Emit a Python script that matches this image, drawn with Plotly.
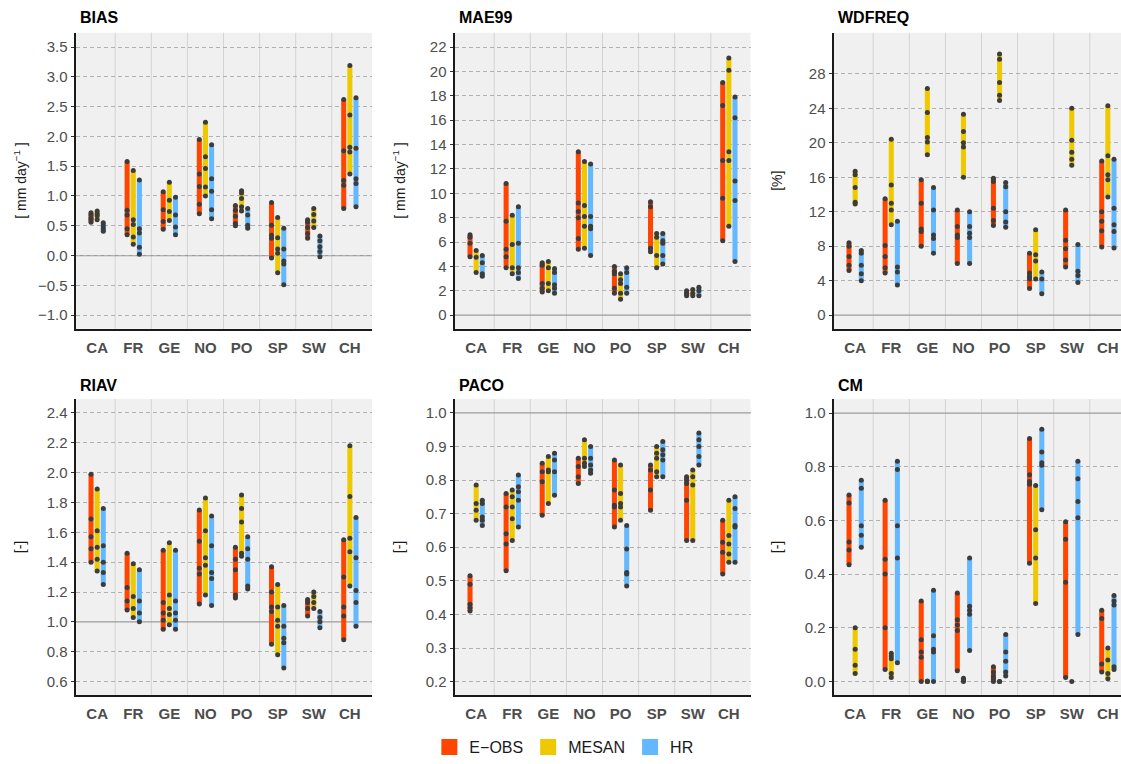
import plotly.graph_objects as go

# ---------------- data ----------------
CATEGORIES = ["CA", "FR", "GE", "NO", "PO", "SP", "SW", "CH"]
SERIES_NAMES = ["E−OBS", "MESAN", "HR"]
SERIES_COLORS = ["#FF4500", "#EEC900", "#63B8FF"]

# BIAS [mm/day]
BIAS_EOBS = [[0.72, 0.68, 0.63, 0.60, 0.56], [1.58, 0.76, 0.68, 0.45, 0.35], [1.07, 0.77, 0.57, 0.44],
             [1.95, 1.37, 1.16, 0.86, 0.70], [0.84, 0.76, 0.66, 0.54, 0.50], [0.89, 0.51, 0.34, 0.29, -0.04],
             [0.60, 0.56, 0.47, 0.37, 0.29], [2.62, 1.76, 1.26, 1.18, 0.79]]
BIAS_MESAN = [[0.75, 0.70, 0.67, 0.60], [1.43, 0.60, 0.52, 0.31, 0.19], [1.23, 0.93, 0.74, 0.59],
              [2.24, 1.66, 1.46, 1.15, 1.00], [1.09, 1.05, 0.96, 0.82, 0.75], [0.64, 0.30, 0.11, 0.04, -0.29],
              [0.79, 0.69, 0.58, 0.47], [3.19, 2.36, 1.82, 1.74, 1.37]]
BIAS_HR = [[0.55, 0.50, 0.45, 0.41], [1.27, 0.45, 0.38, 0.14, 0.02], [0.98, 0.68, 0.48, 0.35],
           [1.86, 1.29, 1.08, 0.77, 0.62], [0.79, 0.68, 0.51, 0.46], [0.46, 0.11, -0.09, -0.14, -0.49],
           [0.33, 0.25, 0.15, 0.07, -0.02], [2.65, 1.80, 1.29, 1.21, 0.82]]

# MAE99 [mm/day]
MAE99_EOBS = [[6.6, 6.4, 5.9, 4.8], [10.8, 7.7, 5.4, 4.8, 3.9], [4.3, 4.1, 2.6, 2.2, 1.9],
              [13.4, 9.2, 8.5, 8.0, 6.3, 5.4], [4.0, 3.6, 3.4, 2.2, 1.8], [9.3, 8.9, 5.5, 5.2],
              [2.0, 1.8, 1.6], [19.1, 17.2, 12.7, 9.6, 6.1]]
MAE99_MESAN = [[5.3, 4.75, 3.5], [8.2, 5.8, 3.9, 3.4], [4.4, 3.9, 2.6, 2.0],
               [12.6, 9.0, 8.1, 7.3, 5.5], [3.4, 2.9, 2.6, 1.8, 1.3], [6.7, 6.4, 4.9, 3.9],
               [2.1, 1.8, 1.6], [21.1, 20.1, 13.4, 12.7, 7.3]]
MAE99_HR = [[4.9, 4.3, 3.4, 3.2], [8.9, 5.9, 3.9, 3.5, 3.0], [3.8, 3.5, 2.5, 2.2, 1.8],
            [12.4, 8.1, 7.3, 7.1, 4.9], [3.9, 3.5, 2.3, 1.8], [6.7, 6.1, 5.9, 4.9, 4.2],
            [2.3, 2.0, 1.6], [17.9, 16.2, 11.0, 9.4, 4.4]]

# WDFREQ [%]
WDFREQ_EOBS = [[8.4, 8.0, 6.8, 5.8, 5.2], [13.5, 8.1, 6.8, 5.5, 4.9], [15.7, 13.0, 10.0, 9.7, 8.0],
               [12.2, 10.3, 9.3, 9.0, 6.0], [15.9, 15.5, 12.4, 11.0, 10.4], [7.2, 4.9, 4.5, 4.2, 3.1],
               [12.2, 8.7, 7.7, 6.4, 5.6], [17.9, 12.0, 10.9, 9.8, 7.9]]
WDFREQ_MESAN = [[16.7, 16.3, 14.8, 13.1, 12.9], [20.4, 15.1, 13.0, 12.2, 10.5], [26.3, 23.5, 20.6, 20.1, 18.6],
                [23.3, 21.3, 20.0, 19.5, 16.0], [30.3, 29.7, 27.0, 25.5, 24.9], [9.9, 7.0, 6.3, 4.2],
                [24.0, 20.3, 18.9, 18.1, 17.4], [24.3, 18.5, 16.3, 15.7, 13.7]]
WDFREQ_HR = [[7.5, 7.2, 5.8, 4.8, 4.0], [10.9, 5.6, 5.0, 3.5], [14.8, 12.2, 9.3, 8.9, 7.2],
             [12.0, 10.3, 9.5, 9.0, 6.0], [15.4, 14.9, 12.0, 10.8, 10.2], [5.0, 4.2, 2.5],
             [8.2, 5.1, 4.6, 3.8], [18.1, 12.4, 10.5, 9.7, 7.8]]

# RIAV [-]
RIAV_EOBS = [[1.99, 1.69, 1.57, 1.49, 1.40], [1.46, 1.23, 1.14, 1.08], [1.48, 1.13, 1.06, 1.01, 0.95],
             [1.75, 1.54, 1.36, 1.32, 1.12], [1.50, 1.42, 1.35, 1.18, 1.16], [1.37, 1.20, 1.10, 1.07, 0.85],
             [1.15, 1.13, 1.09, 1.04], [1.55, 1.30, 1.10, 1.04, 0.88]]
RIAV_MESAN = [[1.89, 1.61, 1.50, 1.42, 1.34], [1.39, 1.17, 1.09, 1.03], [1.53, 1.18, 1.09, 1.05, 0.98],
              [1.83, 1.61, 1.43, 1.38, 1.18], [1.85, 1.76, 1.67, 1.46, 1.44], [1.25, 1.10, 1.01, 0.97, 0.78],
              [1.20, 1.17, 1.13, 1.09], [2.18, 1.84, 1.56, 1.47, 1.24]]
RIAV_HR = [[1.76, 1.51, 1.40, 1.33, 1.25], [1.35, 1.14, 1.06, 1.00], [1.48, 1.14, 1.06, 1.01, 0.95],
           [1.71, 1.51, 1.33, 1.29, 1.11], [1.57, 1.49, 1.42, 1.24, 1.22], [1.11, 0.97, 0.89, 0.86, 0.69],
           [1.07, 1.03, 1.00, 0.96], [1.70, 1.43, 1.21, 1.13, 0.97]]

# PACO [-]
PACO_EOBS = [[0.515, 0.49, 0.43, 0.42, 0.41], [0.76, 0.72, 0.64, 0.61, 0.53], [0.85, 0.825, 0.795, 0.695],
             [0.865, 0.84, 0.81, 0.79], [0.86, 0.77, 0.725, 0.72, 0.66], [0.845, 0.83, 0.77, 0.71],
             [0.81, 0.80, 0.79, 0.74, 0.62], [0.68, 0.615, 0.585, 0.52]]
PACO_MESAN = [[0.785, 0.73, 0.71, 0.68], [0.77, 0.75, 0.72, 0.685, 0.62], [0.87, 0.83, 0.825, 0.73],
              [0.92, 0.865, 0.85, 0.84], [0.845, 0.76, 0.73, 0.72, 0.68], [0.90, 0.88, 0.865, 0.825, 0.81],
              [0.83, 0.81, 0.785, 0.62], [0.74, 0.635, 0.61, 0.58, 0.555]]
PACO_HR = [[0.74, 0.73, 0.69, 0.68, 0.665], [0.815, 0.78, 0.765, 0.74, 0.66], [0.88, 0.86, 0.825, 0.755],
           [0.90, 0.865, 0.845, 0.83, 0.82], [0.665, 0.595, 0.525, 0.52, 0.485], [0.915, 0.89, 0.875, 0.86, 0.81],
           [0.94, 0.92, 0.90, 0.87, 0.845], [0.75, 0.715, 0.665, 0.66, 0.555]]

# CM [-]
CM_EOBS = [[0.695, 0.665, 0.52, 0.49, 0.435], [0.675, 0.455, 0.40, 0.20, 0.045], [0.30, 0.155, 0.11, 0.09, 0.0],
           [0.33, 0.23, 0.21, 0.19, 0.04], [0.055, 0.035, 0.02, 0.01, 0.0], [0.905, 0.77, 0.745, 0.735, 0.44],
           [0.595, 0.53, 0.37, 0.015], [0.265, 0.235, 0.065, 0.035]]
CM_MESAN = [[0.20, 0.12, 0.06, 0.03], [0.105, 0.095, 0.085, 0.03, 0.015], [0.002, 0.0, 0.0],
            [0.012, 0.005, 0.0], [0.0, 0.0], [0.73, 0.565, 0.46, 0.29],
            [0.0], [0.125, 0.08, 0.03, 0.01]]
CM_HR = [[0.75, 0.72, 0.58, 0.545, 0.50], [0.82, 0.79, 0.58, 0.46, 0.07], [0.34, 0.17, 0.12, 0.11, 0.0],
         [0.46, 0.28, 0.265, 0.25, 0.115], [0.175, 0.11, 0.075, 0.035, 0.02], [0.94, 0.855, 0.815, 0.805, 0.64],
         [0.82, 0.755, 0.67, 0.61, 0.175], [0.32, 0.30, 0.285, 0.055, 0.045]]

# axis ticks / limits
BIAS_TICKS = [-1.0, -0.5, 0.0, 0.5, 1.0, 1.5, 2.0, 2.5, 3.0, 3.5]
MAE99_TICKS = [0, 2, 4, 6, 8, 10, 12, 14, 16, 18, 20, 22]
WDFREQ_TICKS = [0, 4, 8, 12, 16, 20, 24, 28]
RIAV_TICKS = [0.6, 0.8, 1.0, 1.2, 1.4, 1.6, 1.8, 2.0, 2.2, 2.4]
PACO_TICKS = [0.2, 0.3, 0.4, 0.5, 0.6, 0.7, 0.8, 0.9, 1.0]
CM_TICKS = [0.0, 0.2, 0.4, 0.6, 0.8, 1.0]

BIAS_LIM = [-1.23, 3.74]
MAE99_LIM = [-1.12, 23.17]
WDFREQ_LIM = [-1.58, 32.76]
RIAV_LIM = [0.507, 2.493]
PACO_LIM = [0.159, 1.041]
CM_LIM = [-0.052, 1.052]

# ---------------- layout helpers ----------------
W, H = 1121, 764
COL_X = [(75.5, 372.0), (454.5, 750.5), (833.5, 1121.0)]
ROW_Y = [(33.0, 331.0), (401.7, 700.0)]
CAT_PX = 36.1
YLABEL_X = [20, 399, 777]
TITLE_Y = [18, 388]

PANELS = [
    ("BIAS", "[ mm day<sup>−1</sup> ]", [BIAS_EOBS, BIAS_MESAN, BIAS_HR], BIAS_TICKS, "{:.1f}", BIAS_LIM, 0.0),
    ("MAE99", "[ mm day<sup>−1</sup> ]", [MAE99_EOBS, MAE99_MESAN, MAE99_HR], MAE99_TICKS, "{:d}", MAE99_LIM, 0.0),
    ("WDFREQ", "[%]", [WDFREQ_EOBS, WDFREQ_MESAN, WDFREQ_HR], WDFREQ_TICKS, "{:d}", WDFREQ_LIM, 0.0),
    ("RIAV", "[-]", [RIAV_EOBS, RIAV_MESAN, RIAV_HR], RIAV_TICKS, "{:.1f}", RIAV_LIM, 1.0),
    ("PACO", "[-]", [PACO_EOBS, PACO_MESAN, PACO_HR], PACO_TICKS, "{:.1f}", PACO_LIM, 1.0),
    ("CM", "[-]", [CM_EOBS, CM_MESAN, CM_HR], CM_TICKS, "{:.1f}", CM_LIM, 1.0),
]

DODGE = [-0.17, 0.0, 0.17]
BAR_W = 0.14
FONT = "Liberation Sans, Arial, Helvetica, sans-serif"
TXT_GREY = "#4D4D4D"

fig = go.Figure()
layout = dict(
    width=W, height=H,
    margin=dict(l=0, r=0, t=0, b=0),
    paper_bgcolor="white", plot_bgcolor="#F0F0F0",
    barmode="overlay", showlegend=True,
    font=dict(family=FONT, color=TXT_GREY),
)
shapes, annotations = [], []

for p, (title, unit, series, ticks, fmt, ylim, ref) in enumerate(PANELS):
    r, c = divmod(p, 3)
    n = p + 1
    xa = "x" if n == 1 else f"x{n}"
    ya = "y" if n == 1 else f"y{n}"
    x0p, x1p = COL_X[c]
    y0p, y1p = ROW_Y[r]
    xr = [0.4, 0.4 + (x1p - x0p) / CAT_PX]

    for s, vals in enumerate(series):
        xs = [i + 1 + DODGE[s] for i in range(len(CATEGORIES))]
        lo = [min(v) for v in vals]
        hi = [max(v) for v in vals]
        fig.add_trace(go.Bar(
            x=xs, y=[h - l for h, l in zip(hi, lo)], base=lo, width=BAR_W,
            marker=dict(color=SERIES_COLORS[s], line=dict(width=0)),
            xaxis=xa, yaxis=ya, showlegend=False, name=SERIES_NAMES[s],
        ))
        px, py = [], []
        for i, v in enumerate(vals):
            px += [xs[i]] * len(v)
            py += list(v)
        fig.add_trace(go.Scatter(
            x=px, y=py, mode="markers",
            marker=dict(color="#3C3C3C", size=5, line=dict(width=0)),
            xaxis=xa, yaxis=ya, showlegend=False, name=SERIES_NAMES[s],
        ))

    key_x = "xaxis" if n == 1 else f"xaxis{n}"
    key_y = "yaxis" if n == 1 else f"yaxis{n}"
    layout[key_x] = dict(
        domain=[x0p / W, x1p / W], range=xr, anchor=ya,
        tickvals=list(range(1, len(CATEGORIES) + 1)), ticktext=[f"<b>{t}</b>" for t in CATEGORIES],
        showgrid=False, zeroline=False, showline=True, linecolor="#1A1A1A", linewidth=2,
        ticks="outside", ticklen=4, tickcolor="rgba(0,0,0,0)",
        tickfont=dict(family=FONT, size=15, color=TXT_GREY),
        fixedrange=True,
    )
    layout[key_y] = dict(
        domain=[1 - y1p / H, 1 - y0p / H], range=ylim, anchor=xa,
        tickvals=ticks, ticktext=[fmt.format(t).replace("-", "−") for t in ticks],
        showgrid=True, gridcolor="#B0B0B0", gridwidth=1, griddash="4px,3px",
        zeroline=False, showline=True, linecolor="#1A1A1A", linewidth=2,
        ticks="outside", ticklen=3, tickcolor="#333333", tickwidth=1,
        tickfont=dict(family=FONT, size=15, color=TXT_GREY),
        fixedrange=True,
    )
    # separators between categories
    for b in range(1, len(CATEGORIES)):
        shapes.append(dict(type="line", xref=xa, yref=f"{ya} domain", x0=b + 0.5, x1=b + 0.5,
                           y0=0, y1=1, line=dict(color="#D4D4D4", width=1), layer="below"))
    # reference line
    shapes.append(dict(type="line", xref=f"{xa} domain", yref=ya, x0=0, x1=1, y0=ref, y1=ref,
                       line=dict(color="#9C9C9C", width=1.3), layer="below"))
    # panel title
    annotations.append(dict(text=f"<b>{title}</b>", xref="paper", yref="paper",
                            x=(x0p + 2) / W, y=1 - TITLE_Y[r] / H, xanchor="left", yanchor="middle",
                            showarrow=False, font=dict(family=FONT, size=16, color="black")))
    # y-axis title
    annotations.append(dict(text=unit, xref="paper", yref="paper",
                            x=YLABEL_X[c] / W, y=1 - (y0p + y1p) / 2 / H, xanchor="center", yanchor="middle",
                            textangle=-90, showarrow=False, font=dict(family=FONT, size=14, color="#1A1A1A")))

# legend entries
for s, name in enumerate(SERIES_NAMES):
    fig.add_trace(go.Scatter(
        x=[None], y=[None], mode="markers", name=name,
        marker=dict(symbol="square", size=16, color=SERIES_COLORS[s]),
        xaxis="x", yaxis="y", showlegend=True,
    ))

layout["legend"] = dict(orientation="h", x=0.503, xanchor="center", y=1 - 752 / H, yanchor="middle",
                        font=dict(family=FONT, size=16, color="#1A1A1A"), bgcolor="rgba(0,0,0,0)",
                        itemwidth=30)
layout["shapes"] = shapes
layout["annotations"] = annotations
fig.update_layout(**layout)
fig.write_html("out.html")
